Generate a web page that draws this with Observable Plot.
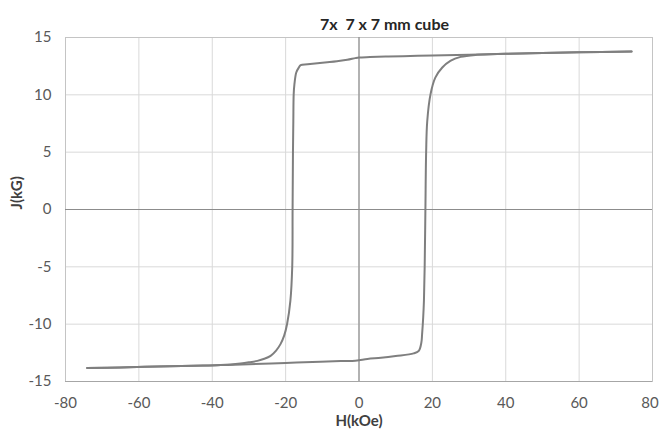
<!DOCTYPE html>
<html><head><meta charset="utf-8">
<script src="https://cdn.jsdelivr.net/npm/d3@7"></script>
<script src="https://cdn.jsdelivr.net/npm/@observablehq/plot@0.6"></script>
<style>
body{margin:0;background:#fff;}
#chart svg{font-family:Lato,"Open Sans",sans-serif;}
</style></head><body><div id="chart"></div>
<script>
const title = "7x  7 x 7 mm cube";
const xLabel = "H(kOe)";
const yLabel = "J(kG)";
const xTicks = [-80, -60, -40, -20, 0, 20, 40, 60, 80];
const yTicks = [-15, -10, -5, 0, 5, 10, 15];

// descending branch (from +H to -H)
const upperH = [74.3, 60, 50, 40, 30, 20, 14, 8, 3, 0, -1, -3.2, -6, -8, -10, -14, -15.9, -16.4, -17.1, -17.6, -17.8, -17.9, -18.0, -18.1, -18.2, -18.7, -19.6, -20.4, -21.4, -22.6, -24.1, -25.8, -27.7, -30, -32.3, -37.7, -45, -55, -65, -74.1];
const upperJ = [13.78, 13.71, 13.65, 13.58, 13.5, 13.43, 13.39, 13.34, 13.29, 13.25, 13.2, 13.05, 12.93, 12.86, 12.8, 12.66, 12.59, 12.38, 11.95, 10.93, 10.06, 7.7, 5, 0, -5, -7.95, -9.99, -11.0, -11.74, -12.3, -12.76, -13.02, -13.2, -13.33, -13.43, -13.57, -13.63, -13.7, -13.77, -13.83];

// ascending branch (from -H to +H)
const lowerH = [-74.1, -65, -55, -45, -37.7, -30, -20, -10.5, -5, -1, 0, 2.3, 6, 10, 14.9, 16.3, 17.0, 17.2, 17.5, 17.7, 17.9, 18.1, 18.3, 18.6, 19.5, 20.8, 22.7, 24.9, 27.7, 32.2, 40, 50, 60, 74.3];
const lowerJ = [-13.83, -13.77, -13.7, -13.63, -13.57, -13.49, -13.38, -13.28, -13.22, -13.18, -13.15, -13.03, -12.93, -12.78, -12.55, -12.32, -11.6, -10.87, -9.4, -7.95, -5, 0, 5, 7.7, 10.06, 11.5, 12.38, 12.96, 13.31, 13.49, 13.58, 13.65, 13.71, 13.78];

const data = [
  ...upperH.map((h, i) => ({H: h, J: upperJ[i], branch: "down"})),
  ...lowerH.map((h, i) => ({H: h, J: lowerJ[i], branch: "up"}))
];

const fmt = d => String(d);

const chart = Plot.plot({
  width: 659, height: 434,
  marginLeft: 65, marginRight: 7, marginTop: 37, marginBottom: 53,
  style: {fontFamily: "Lato, 'Open Sans', sans-serif", fontSize: "15px", color: "#595959", background: "#fff"},
  x: {domain: [-80, 80]},
  y: {domain: [-15, 15]},
  marks: [
    Plot.gridX(xTicks, {stroke: "#d9d9d9", strokeOpacity: 1}),
    Plot.gridY(yTicks, {stroke: "#d9d9d9", strokeOpacity: 1}),
    Plot.frame({stroke: "#c4c4c4"}),
    Plot.ruleY([-15], {stroke: "#a6a6a6"}),
    Plot.ruleX([0], {stroke: "#8c8c8c", strokeWidth: 1.2}),
    Plot.ruleY([0], {stroke: "#8c8c8c", strokeWidth: 1.2}),
    Plot.line(data, {x: "H", y: "J", z: "branch", stroke: "#7f7f7f", strokeWidth: 2, curve: "catmull-rom"}),
    Plot.axisX(xTicks.slice(0, -1), {tickSize: 0, tickPadding: 16, label: null, fill: "#595959", tickFormat: fmt}),
    Plot.axisX(xTicks.slice(-1), {tickSize: 0, tickPadding: 16, label: null, fill: "#595959", tickFormat: fmt, dx: -2.5}),
    Plot.axisY(yTicks, {tickSize: 0, tickPadding: 14, label: null, fill: "#595959", tickFormat: fmt}),
    Plot.text([xLabel], {frameAnchor: "bottom", dy: 44, fontWeight: "bold", fill: "#404040", fontSize: 15}),
    Plot.text([yLabel], {frameAnchor: "left", dx: -48, rotate: -90, fontWeight: "bold", fill: "#404040", fontSize: 15}),
    Plot.text([title], {frameAnchor: "top", dy: -18.5, dx: 25.5, fontWeight: "bold", fill: "#262626", fontSize: 16})
  ]
});
document.getElementById("chart").append(chart);
</script>
</body></html>
